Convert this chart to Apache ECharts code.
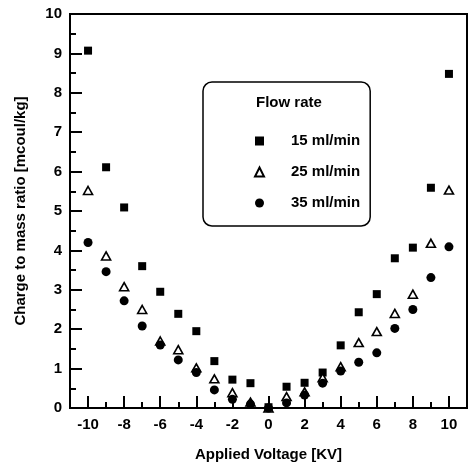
<!DOCTYPE html>
<html>
<head>
<meta charset="utf-8">
<title>Charge to mass ratio</title>
<script src="https://cdn.jsdelivr.net/npm/echarts@6/dist/echarts.min.js"></script>
<style>
	html, body { margin: 0; padding: 0; background: #fff; }
	#chart { width: 469px; height: 468px; }
</style>
</head>
<body>
<div id="chart"></div>
<script type="text/javascript">
	// applied voltage [KV]
	var voltage = [-10, -9, -8, -7, -6, -5, -4, -3, -2, -1, 0, 1, 2, 3, 4, 5, 6, 7, 8, 9, 10];
	// charge to mass ratio [mcoul/kg] per flow rate
	var flow15 = [9.07, 6.11, 5.09, 3.60, 2.95, 2.39, 1.95, 1.19, 0.72, 0.63, 0.02, 0.54, 0.64, 0.90, 1.59, 2.43, 2.89, 3.80, 4.07, 5.59, 8.48];
	var flow25 = [5.52, 3.86, 3.08, 2.50, 1.70, 1.48, 1.02, 0.74, 0.39, 0.15, 0.00, 0.29, 0.41, 0.77, 1.05, 1.66, 1.94, 2.40, 2.89, 4.18, 5.53];
	var flow35 = [4.20, 3.46, 2.72, 2.08, 1.60, 1.22, 0.90, 0.46, 0.22, 0.10, 0.00, 0.13, 0.33, 0.63, 0.94, 1.16, 1.40, 2.02, 2.50, 3.31, 4.09];
	var seriesNames = ['15 ml/min', '25 ml/min', '35 ml/min'];
	var majorX = [-10, -8, -6, -4, -2, 0, 2, 4, 6, 8, 10];
	var minorX = [-9, -7, -5, -3, -1, 1, 3, 5, 7, 9];

	var font = '"Liberation Sans", Arial, sans-serif';

	function pairs(ys) {
		var out = [];
		for (var i = 0; i < voltage.length; i++) {
			out.push([voltage[i], ys[i]]);
		}
		return out;
	}

	var myChart = echarts.init(document.getElementById('chart'), null, { renderer: 'canvas' });
	var option = {
		backgroundColor : '#fff',
		animation : false,
		textStyle : {
			fontFamily : font
		},
		title : {
			text : 'Flow rate',
			left : 256,
			top : 95,
			padding : 0,
			textStyle : {
				fontFamily : font,
				fontSize : 15,
				fontWeight : 'bold',
				color : '#000'
			}
		},
		legend : {
			orient : 'vertical',
			left : 203,
			top : 82,
			padding : [51, 10, 15, 51],
			itemGap : 15,
			itemWidth : 9,
			itemHeight : 9,
			selectedMode : false,
			borderColor : '#000',
			borderWidth : 1.5,
			borderRadius : 9,
			data : seriesNames,
			textStyle : {
				fontFamily : font,
				fontSize : 15,
				fontWeight : 'bold',
				color : '#000',
				lineHeight : 16,
				padding : [0, 0, 0, 22]
			}
		},
		grid : {
			left : 70,
			right : 2,
			top : 14,
			bottom : 60,
			show : true,
			borderColor : '#000',
			borderWidth : 2,
			backgroundColor : 'transparent'
		},
		xAxis : [ {
			type : 'value',
			min : -11,
			max : 11,
			interval : 1,
			name : 'Applied Voltage [KV]',
			nameLocation : 'middle',
			nameGap : 39,
			nameTextStyle : {
				fontFamily : font,
				fontSize : 15,
				fontWeight : 'bold',
				color : '#000'
			},
			splitLine : { show : false },
			axisLine : { onZero : false, lineStyle : { color : '#000', width : 2 } },
			axisTick : {
				inside : true,
				length : 12,
				customValues : majorX,
				lineStyle : { color : '#000', width : 2 }
			},
			axisLabel : {
				customValues : majorX,
				margin : 9,
				fontFamily : font,
				fontSize : 15,
				fontWeight : 'bold',
				color : '#000'
			}
		}, {
			type : 'value',
			position : 'bottom',
			min : -11,
			max : 11,
			interval : 1,
			splitLine : { show : false },
			axisLine : { show : false, onZero : false },
			axisLabel : { show : false },
			axisTick : {
				inside : true,
				length : 6,
				customValues : minorX,
				lineStyle : { color : '#000', width : 2 }
			}
		} ],
		yAxis : {
			type : 'value',
			min : 0,
			max : 10,
			interval : 1,
			name : 'Charge to mass ratio [mcoul/kg]',
			nameLocation : 'middle',
			nameGap : 42,
			nameTextStyle : {
				fontFamily : font,
				fontSize : 15,
				fontWeight : 'bold',
				color : '#000'
			},
			splitLine : { show : false },
			axisLine : { onZero : false, lineStyle : { color : '#000', width : 2 } },
			axisTick : {
				inside : true,
				length : 12,
				lineStyle : { color : '#000', width : 2 }
			},
			minorTick : {
				show : true,
				splitNumber : 2,
				length : 6,
				lineStyle : { color : '#000', width : 2 }
			},
			axisLabel : {
				margin : 8,
				fontFamily : font,
				fontSize : 15,
				fontWeight : 'bold',
				color : '#000'
			}
		},
		series : [ {
			name : seriesNames[0],
			type : 'scatter',
			symbol : 'rect',
			symbolSize : 8,
			itemStyle : { color : '#000', opacity : 1 },
			data : pairs(flow15)
		}, {
			name : seriesNames[1],
			type : 'scatter',
			symbol : 'triangle',
			symbolSize : [9, 8],
			itemStyle : { color : '#fff', borderColor : '#000', borderWidth : 1.6, opacity : 1 },
			data : pairs(flow25)
		}, {
			name : seriesNames[2],
			type : 'scatter',
			symbol : 'circle',
			symbolSize : 9,
			itemStyle : { color : '#000', opacity : 1 },
			data : pairs(flow35)
		} ]
	};
	myChart.setOption(option);
</script>
</body>
</html>
